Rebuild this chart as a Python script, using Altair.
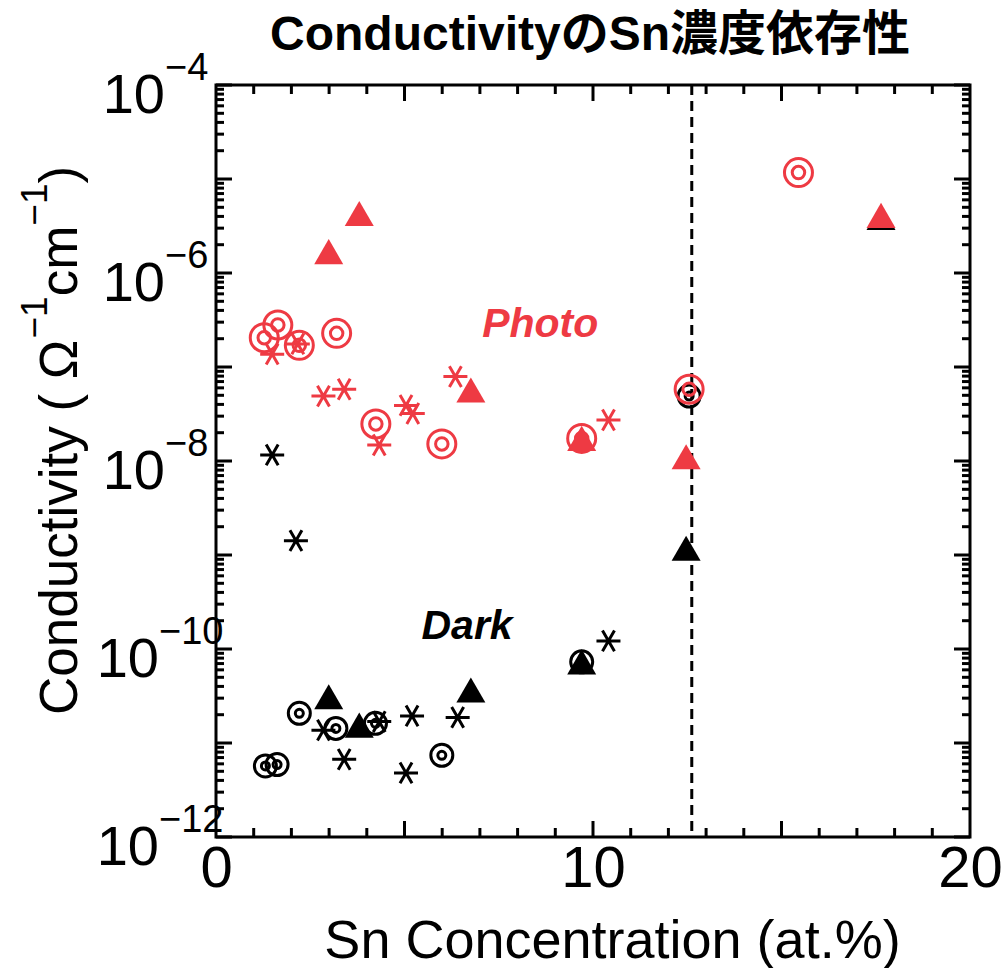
import altair as alt
import pandas as pd

RED = "#ee3a43"
BLACK = "#000000"
SANS = "Liberation Sans, Arial, DejaVu Sans"
TITLE_FONT = "Liberation Sans, Noto Sans CJK JP"

# ---- data ----
# Photo conductivity (red)
photo_circle_x = [1.28, 1.64, 2.21, 3.20, 4.24, 5.99, 9.70, 12.55, 15.45]
photo_circle_y = [2.05e-7, 2.8e-7, 1.7e-7, 2.28e-7, 2.48e-8, 1.52e-8, 1.74e-8, 5.8e-8, 1.17e-5]
photo_star_x = [1.49, 2.17, 2.85, 3.40, 4.33, 5.04, 5.22, 6.35, 10.41]
photo_star_y = [1.37e-7, 1.76e-7, 4.9e-8, 5.8e-8, 1.48e-8, 3.9e-8, 3.2e-8, 7.9e-8, 2.73e-8]
photo_tri_x = [2.99, 3.80, 6.76, 9.70, 12.47, 17.64]
photo_tri_y = [1.69e-6, 4.3e-6, 5.7e-8, 1.74e-8, 1.11e-8, 4.1e-6]
# Dark conductivity (black)
dark_circle_x = [1.31, 1.62, 2.21, 3.18, 4.23, 5.99, 9.70, 12.55]
dark_circle_y = [5.7e-12, 5.9e-12, 2.07e-11, 1.43e-11, 1.62e-11, 7.4e-12, 7.3e-11, 4.9e-8]
dark_star_x = [1.49, 2.12, 2.85, 3.40, 4.33, 5.04, 5.20, 6.41, 10.41]
dark_star_y = [1.16e-8, 1.42e-9, 1.37e-11, 6.7e-12, 1.69e-11, 4.8e-12, 1.94e-11, 1.87e-11, 1.22e-10]
dark_tri_x = [2.99, 3.80, 6.76, 9.70, 12.47, 17.64]
dark_tri_y = [3.1e-11, 1.55e-11, 3.66e-11, 7.3e-11, 1.18e-9, 3.9e-6]

threshold_x = [12.62]
x_label_values = [0, 10, 20]
x_major_ticks = [5, 10, 15]
x_minor_ticks = [v for v in range(1, 20) if v % 5 != 0]
y_decades = list(range(-12, -3))
y_labels_single = [-4, -6, -8]
y_labels_double = [-10, -12]

annot_text = ["Photo", "Dark"]
annot_x = [8.6, 6.66]
annot_y = [2.8e-7, 1.71e-10]
annot_color = [RED, BLACK]

title_text = "ConductivityのSn濃度依存性"
x_title = "Sn Concentration (at.%)"
# y title pieces: (text, is_superscript)
y_title_pieces = ["Conductivity ( Ω", "−1", "cm", "−1", " )"]
y_title_super = [False, True, False, True, False]

W, H = 754, 752

xs = alt.Scale(domain=[0, 20], nice=False, zero=False)
ys = alt.Scale(type="log", domain=[1e-12, 1e-4], nice=False)

x_axis = alt.Axis(values=x_label_values, format="d", labelFont=SANS, labelFontSize=58,
                  labelColor="black", labelPadding=3, labelFlush=False, labelOverlap=False,
                  ticks=False, domain=False, grid=False,
                  title=x_title, titleFont=SANS, titleFontSize=54,
                  titleFontWeight="normal", titleColor="black",
                  titleX=396, titleY=120, titleAlign="center", titleBaseline="alphabetic")

X = alt.X("x:Q", scale=xs, axis=x_axis)
Y = alt.Y("y:Q", scale=ys, axis=None)


def df(xv, yv):
    return pd.DataFrame({"x": xv, "y": yv})


# ---- ticks (inward, on all four sides) ----
y_major = [10.0 ** e for e in y_decades]
y_minor = [k * 10.0 ** e for e in range(-12, -4) for k in range(2, 10)]


def yticks(vals, length):
    d = pd.DataFrame({"y": vals})
    left = alt.Chart(d).mark_rule(color="black", strokeWidth=3).encode(
        y=Y, x=alt.value(0), x2=alt.value(length))
    right = alt.Chart(d).mark_rule(color="black", strokeWidth=3).encode(
        y=Y, x=alt.value(W), x2=alt.value(W - length))
    return [left, right]


def xticks(vals, length):
    d = pd.DataFrame({"x": vals})
    bottom = alt.Chart(d).mark_rule(color="black", strokeWidth=3).encode(
        x=X, y=alt.value(H), y2=alt.value(H - length))
    top = alt.Chart(d).mark_rule(color="black", strokeWidth=3).encode(
        x=X, y=alt.value(0), y2=alt.value(length))
    return [bottom, top]


tick_layers = (yticks(y_major, 16) + yticks(y_minor, 8)
               + xticks(x_major_ticks, 16) + xticks(x_minor_ticks, 9))

dash = alt.Chart(pd.DataFrame({"x": threshold_x})).mark_rule(
    color="black", strokeWidth=3, strokeDash=[10, 6]).encode(x=X, y=alt.value(0), y2=alt.value(H))

ASTER = "M-1,0L1,0M-0.5,-0.866L0.5,0.866M-0.5,0.866L0.5,-0.866"


def rings(xv, yv, color, outer, inner):
    d = df(xv, yv)
    o = alt.Chart(d).mark_point(shape="circle", filled=False, size=outer, strokeWidth=3,
                                color=color, opacity=1).encode(x=X, y=Y)
    i = alt.Chart(d).mark_point(shape="circle", filled=False, size=inner, strokeWidth=3,
                                color=color, opacity=1).encode(x=X, y=Y)
    return [o, i]


def stars(xv, yv, color):
    return alt.Chart(df(xv, yv)).mark_point(shape=ASTER, filled=False, size=576, strokeWidth=3,
                                            color=color, opacity=1).encode(x=X, y=Y)


def tris(xv, yv, color):
    return alt.Chart(df(xv, yv)).mark_point(shape="triangle-up", filled=True, size=841,
                                            color=color, opacity=1, strokeWidth=0).encode(x=X, y=Y)


point_layers = (rings(dark_circle_x, dark_circle_y, BLACK, 484, 64)
                + [stars(dark_star_x, dark_star_y, BLACK), tris(dark_tri_x, dark_tri_y, BLACK)]
                + rings(photo_circle_x, photo_circle_y, RED, 784, 156)
                + [stars(photo_star_x, photo_star_y, RED), tris(photo_tri_x, photo_tri_y, RED)])

annot = alt.Chart(pd.DataFrame({"x": annot_x, "y": annot_y, "t": annot_text, "c": annot_color})).mark_text(
    font=SANS, fontSize=41, fontWeight="bold", fontStyle="italic", align="center", baseline="middle"
).encode(x=X, y=Y, text="t:N", color=alt.Color("c:N", scale=None))


# ---- y tick labels: 10 with superscript exponent ----
def ylabels(exps, base_right, exp_left):
    d = pd.DataFrame({"y": [10.0 ** e for e in exps], "e": ["\u2212" + str(-e) for e in exps]})
    base = alt.Chart(d).mark_text(font=SANS, fontSize=56, align="right", baseline="alphabetic",
                                  dy=28, color="black").encode(y=Y, x=alt.value(base_right),
                                                                text=alt.value("10"))
    sup = alt.Chart(d).mark_text(font=SANS, fontSize=38, align="left", baseline="alphabetic",
                                 dy=-5, color="black").encode(y=Y, x=alt.value(exp_left), text="e:N")
    return [base, sup]


label_layers = ylabels(y_labels_single, -51, -51) + ylabels(y_labels_double, -57, -57)

# ---- title (text mark centred over the plot) ----
title = alt.Chart(pd.DataFrame({"t": [title_text]})).mark_text(
    font=TITLE_FONT, fontSize=48, fontWeight="bold", align="center", baseline="alphabetic",
    color="black").encode(x=alt.value(W / 2 - 3), y=alt.value(-35), text="t:N")

# ---- rotated y-axis title built from pieces so the exponents are raised ----
BASE_SIZE, SUP_SIZE = 53, 37
# approximate advance widths (Arial metrics, em units)
piece_em = [7.103, 1.14, 1.333, 1.14, 0.611]
ty_layers = []
pos = 715 - 85  # start (bottom) of the title, in plot coords
for txt, sup, em in zip(y_title_pieces, y_title_super, piece_em):
    size = SUP_SIZE if sup else BASE_SIZE
    xpos = -216 + (47 if sup else 77)
    ty_layers.append(
        alt.Chart(pd.DataFrame({"t": [txt]})).mark_text(
            font=SANS, fontSize=size, angle=270, align="left", baseline="alphabetic",
            color="black").encode(x=alt.value(xpos), y=alt.value(pos), text="t:N"))
    pos -= em * size

chart = alt.layer(*tick_layers, dash, *point_layers, annot, *label_layers, title,
                  *ty_layers).properties(
    width=W, height=H,
    background="white",
    autosize=alt.AutoSizeParams(type="none"),
    padding={"left": 216, "top": 85, "right": 33, "bottom": 131},
).configure_view(stroke="black", strokeWidth=3)

chart.save("out.html", embed_options={"renderer": "svg", "actions": False})
